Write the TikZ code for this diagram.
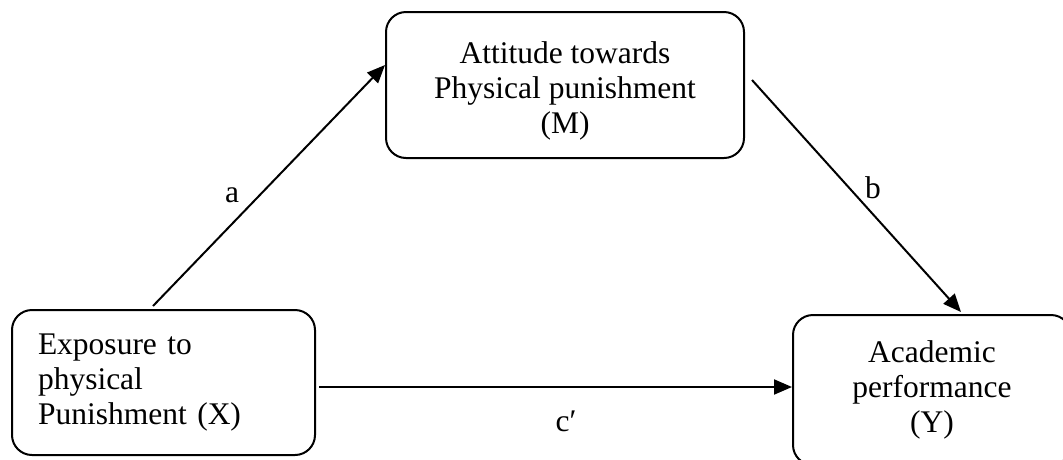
\documentclass[tikz,border=0pt]{standalone}
\usepackage{fontspec}
\setmainfont{Liberation Serif}
\usetikzlibrary{arrows.meta,calc}
\begin{document}
\begin{tikzpicture}
[x=1pt,y=-1pt,line width=2pt,
 every node/.style={font=\fontsize{31.5}{35}\selectfont},
 varbox/.style={draw=black,rounded corners=20pt,align=center},
 link/.style={-{Triangle[length=18pt,width=15pt]}}]
\useasboundingbox (0,0) rectangle (1063,459);
\node[varbox,minimum width=358pt,minimum height=146pt] (M) at (565,85) {\rule{0pt}{33pt}Attitude towards\\Physical punishment\\(M)};
\node[varbox,align=left,text width=251pt,inner xsep=26pt,minimum width=303pt,minimum height=145pt] (X) at (163.5,382.5) {Exposure to\\physical\\Punishment (X)};
\node[varbox,minimum width=278pt,minimum height=150pt] (Y) at (932,390) {Academic\\performance\\(Y)};
%\node (c) at (565,300) {};
\coordinate (c1) at ($(X.east)+(3,4.5)$);
\draw [link] ($(X.north)+(-10.5,-3)$) to ($(M.west)+(0,-20)$);
\draw [link] ($(M.east)+(7,-5)$) to ($(Y.north)+(29,-2)$);
\draw [link] (c1) to (c1 -| Y.west);
\node (la) at (232,195) {a};
\node (lb) at (873,188) {b};
\node (lc) at (566,421) {c′};
\end{tikzpicture}
\end{document}
